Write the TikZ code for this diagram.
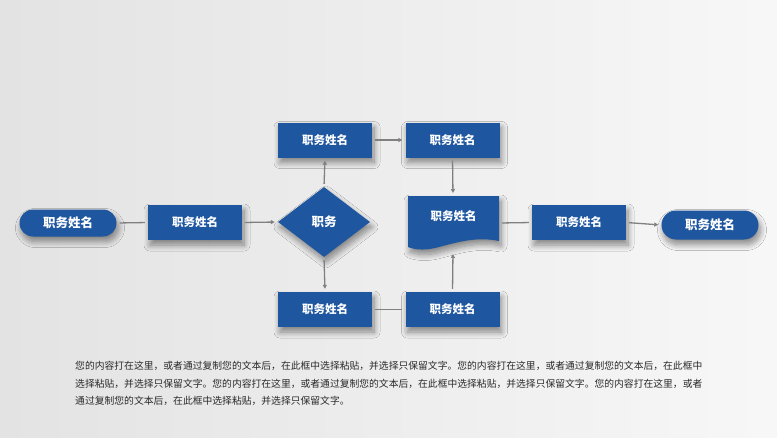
\documentclass[tikz,border=0pt]{standalone}
\usepackage{fontspec}
\setmainfont{Noto Sans CJK SC}
\newfontfamily\cjk{Noto Sans CJK SC}
\usetikzlibrary{shapes.geometric,shadows.blur,arrows.meta}
\definecolor{fblue}{HTML}{1E56A0}
\definecolor{conn}{HTML}{808080}
\definecolor{txtgray}{HTML}{2A2A2A}
\tikzset{
  shad/.style={blur shadow={shadow xshift=2pt,shadow yshift=-5pt,shadow blur radius=6pt,shadow blur steps=10,shadow opacity=45}},
  boxnode/.style={fill=fblue,draw=none,minimum width=94pt,minimum height=35pt,inner sep=0pt,text=white,font=\cjk\bfseries\fontsize{11.5}{13}\selectfont,shad},
  termnode/.style={fill=fblue,draw=none,minimum width=97pt,minimum height=27pt,rounded corners=13.5pt,inner sep=0pt,text=white,font=\cjk\bfseries\fontsize{12.5}{14}\selectfont,shad},
  decnode/.style={diamond,fill=fblue,draw=none,minimum width=92pt,minimum height=70pt,aspect=1.3,inner sep=0pt,text=white,font=\cjk\bfseries\fontsize{12.5}{14}\selectfont,shad},
  conline/.style={draw=conn,line width=1.3pt,shorten <=3pt,shorten >=3pt},
  conarrow/.style={conline,-{Triangle[length=4pt,width=4pt]}},
}
\begin{document}
\begin{tikzpicture}[x=1pt,y=-1pt]
\useasboundingbox (0,0) rectangle (777,437);
\shade[left color=white!89!black,right color=white!97!black] (0,0) rectangle (777,437);
% nodes
\node[termnode] (t1) at (68,223) {职务姓名};
\node[boxnode] (b1) at (195,222.5) {职务姓名};
\node[decnode] (dm) at (324,222) {职务};
\node[boxnode] (ba) at (325,140) {职务姓名};
\node[boxnode] (bb) at (452.5,140) {职务姓名};
\node[boxnode] (bc) at (325,309.5) {职务姓名};
\node[boxnode] (bd) at (452.5,309.5) {职务姓名};
\node[boxnode] (br) at (579,222.5) {职务姓名};
\node[termnode,minimum height=29pt,rounded corners=14.5pt] (t2) at (710,225) {职务姓名};
% document shape
\fill[fblue,shad] (408,196) -- (499,196) -- (499,241)
   .. controls (475,236) and (455,243) .. (435,248)
   .. controls (422,251) and (413,249) .. (408,247) -- cycle;
\node[inner sep=0pt,minimum width=91pt,minimum height=36pt,text=white,font=\cjk\bfseries\fontsize{11.5}{13}\selectfont] (dt) at (453.5,216) {职务姓名};
\coordinate (doctop) at (453,196);
\coordinate (docbot) at (453,251);
\coordinate (docright) at (499,223);
% connectors
\draw[conline] (t1.east) -- (b1.west);
\draw[conarrow] (b1.east) -- (dm.west);
\draw[conarrow] (dm.north) -- (ba.south);
\draw[conarrow] (ba.east) -- (bb.west);
\draw[conarrow] (bb.south) -- (doctop);
\draw[conarrow] (dm.south) -- (bc.north);
\draw[conline] (bc.east) -- (bd.west);
\draw[conarrow] (bd.north) -- (docbot);
\draw[conline] (docright) -- (br.west);
\draw[conarrow] (br.east) -- (t2.west);
% paragraph
\node[anchor=north west,inner sep=0pt,align=left,text=txtgray,font=\cjk\fontsize{9.8}{17.5}\selectfont] (para) at (75,361)
{您的内容打在这里，或者通过复制您的文本后，在此框中选择粘贴，并选择只保留文字。您的内容打在这里，或者通过复制您的文本后，在此框中\\
选择粘贴，并选择只保留文字。您的内容打在这里，或者通过复制您的文本后，在此框中选择粘贴，并选择只保留文字。您的内容打在这里，或者\\
通过复制您的文本后，在此框中选择粘贴，并选择只保留文字。};
\end{tikzpicture}
\end{document}
